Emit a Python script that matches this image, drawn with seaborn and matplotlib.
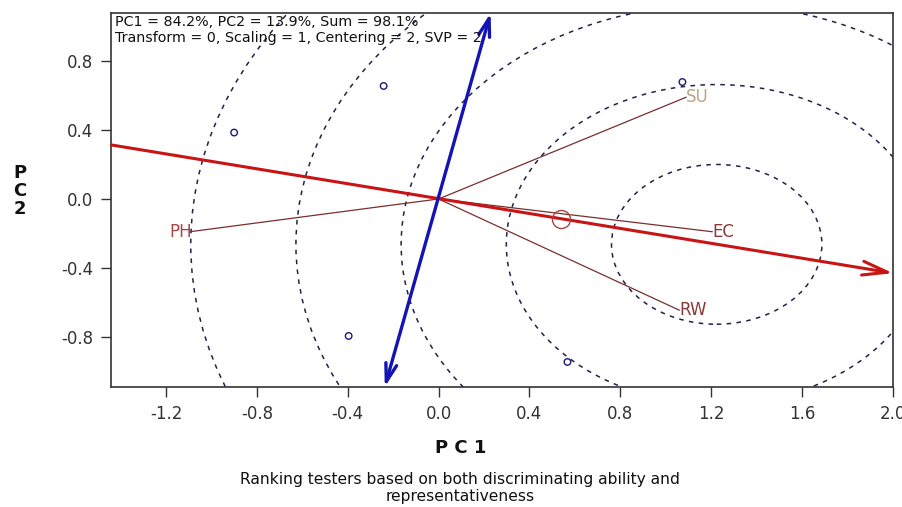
import numpy as np
import pandas as pd
import matplotlib
matplotlib.use("Agg")
import matplotlib.pyplot as plt
import seaborn as sns
from matplotlib.patches import Circle

# ---- data ----
geno_x = [-0.90, -0.242, -0.396, 0.567, 1.073]
geno_y = [0.385, 0.655, -0.794, -0.945, 0.678]

env_names = ["SU", "EC", "RW", "PH"]
env_x = [1.09, 1.205, 1.06, -1.095]
env_y = [0.59, -0.19, -0.645, -0.19]
env_label_colors = ["#b9a487", "#8a3a3a", "#8a3a3a", "#a84545"]

aea_x = [-1.44, 2.0]          # average-environment axis (red arrow)
aea_y = [0.313, -0.43]
atc_x = [-0.237, 0.229]       # ATC ordinate (blue double arrow)
atc_y = [-1.09, 1.078]
avg_env = (0.54, -0.116)
ideal_center = (1.224, -0.263)
circle_radii = [0.463, 0.926, 1.389, 1.852, 2.315]

xticks = [-1.2, -0.8, -0.4, 0.0, 0.4, 0.8, 1.2, 1.6, 2.0]
yticks = [-0.8, -0.4, 0.0, 0.4, 0.8]

info1 = "PC1 = 84.2%, PC2 = 13.9%, Sum = 98.1%"
info2 = "Transform = 0, Scaling = 1, Centering = 2, SVP = 2"
caption = "Ranking testers based on both discriminating ability and\nrepresentativeness"

sns.set_style("white")
plt.rcParams["font.family"] = ["DejaVu Sans"]

fig = plt.figure(figsize=(9.03, 5.07), dpi=100)
ax = fig.add_axes([111 / 903, (507 - 387) / 507, (893 - 111) / 903, (387 - 13) / 507])
ax.set_xlim(-1.442, 1.995)
ax.set_ylim(-1.09, 1.078)

# concentric circles around the ideal tester
for r in circle_radii:
    ax.add_patch(Circle(ideal_center, r, fill=False, edgecolor="#22224a",
                        linestyle=(0, (3, 3.5)), linewidth=1.1, zorder=1))

# environment vectors
df_env = pd.DataFrame({"name": env_names, "x": env_x, "y": env_y})
for i, row in df_env.iterrows():
    ax.plot([0, row.x], [0, row.y], color="#7b2e2e", linewidth=0.9, zorder=3)
    if row.x >= 0:
        ax.text(row.x, row.y, row["name"], ha="left", va="center",
                fontsize=12, color=env_label_colors[i], zorder=4)
    else:
        ax.text(row.x + 0.01, row.y, row["name"], ha="right", va="center",
                fontsize=12, color=env_label_colors[i], zorder=4)

# AEA red arrow
ax.annotate("", xy=(aea_x[1], aea_y[1]), xytext=(aea_x[0], aea_y[0]),
            arrowprops=dict(arrowstyle="->,head_length=1.8,head_width=0.5",
                            color="#c81414", lw=2.2, shrinkA=0, shrinkB=0),
            zorder=5, annotation_clip=False)
# ATC blue double arrow
ax.annotate("", xy=(atc_x[1], atc_y[1]), xytext=(atc_x[0], atc_y[0]),
            arrowprops=dict(arrowstyle="<->,head_length=1.3,head_width=0.4",
                            color="#1414b4", lw=2.4, shrinkA=0, shrinkB=0),
            zorder=5, annotation_clip=False)

# average environment marker
ax.plot([avg_env[0]], [avg_env[1]], marker="o", markersize=13, markerfacecolor="none",
        markeredgecolor="#b04040", markeredgewidth=1.0, zorder=6)

# genotype points
df_g = pd.DataFrame({"x": geno_x, "y": geno_y})
sns.scatterplot(data=df_g, x="x", y="y", ax=ax, marker="o", s=22,
                facecolors="none", edgecolor="#1a1a7a", linewidth=1.0, zorder=6)

ax.set_xticks(xticks)
ax.set_xticklabels([f"{v:.1f}" for v in xticks])
ax.set_yticks(yticks)
ax.set_yticklabels([f"{v:.1f}" for v in yticks])
ax.tick_params(axis="both", direction="out", length=7, width=1, color="#333333",
               labelsize=12, labelcolor="#333333", bottom=True, left=True, pad=6)
ax.set_xlabel("")
ax.set_ylabel("")
for s in ax.spines.values():
    s.set_color("#333333")
    s.set_linewidth(1.2)

ax.text(0.005, 0.995, info1 + "\n" + info2, transform=ax.transAxes, ha="left", va="top",
        fontsize=10.3, color="#111111", linespacing=1.15, zorder=7)

fig.text(461 / 903, 1 - 448 / 507, "P C 1", ha="center", va="center",
         fontsize=13, fontweight="bold", color="#111111")
fig.text(20 / 903, 1 - 191 / 507, "P\nC\n2", ha="center", va="center",
         fontsize=13, fontweight="bold", color="#111111", linespacing=1.0)
fig.text(460 / 903, 1 - 488 / 507, caption, ha="center", va="center",
         fontsize=11.2, color="#111111", linespacing=1.15)

fig.savefig("out.png", dpi=100)
